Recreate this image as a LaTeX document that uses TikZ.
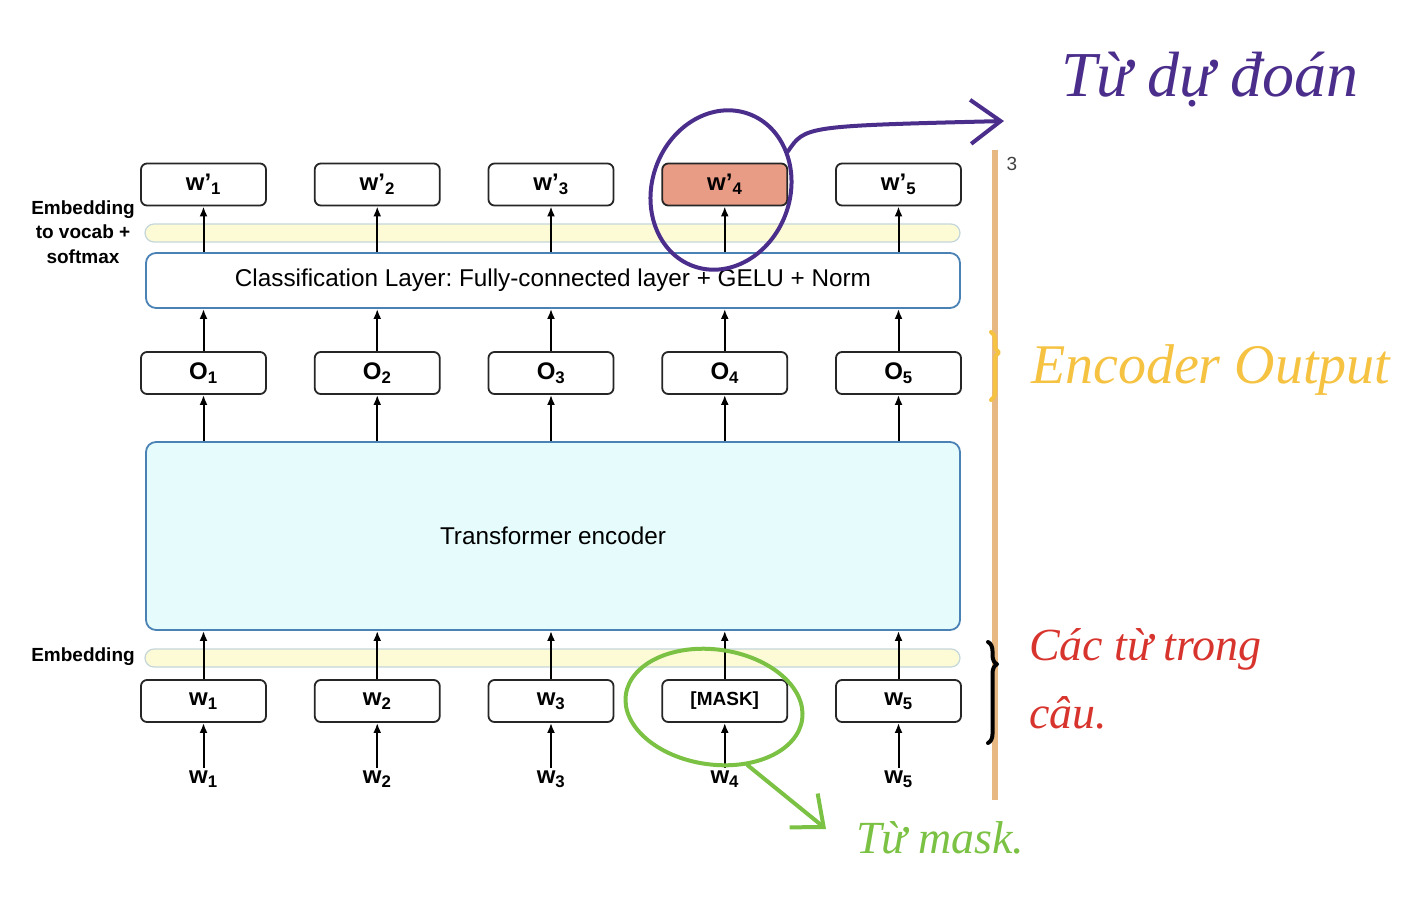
\documentclass[tikz,border=0pt]{standalone}
\usepackage{fontspec}
\setmainfont{Liberation Sans}
\newfontfamily\handfont{Liberation Serif}
\usetikzlibrary{shapes.geometric, arrows, arrows.meta, decorations.pathreplacing}
\frenchspacing

\definecolor{barfill}{HTML}{FCFBD6}
\definecolor{barline}{HTML}{C5D6DA}
\definecolor{layerline}{HTML}{4A82B6}
\definecolor{encfill}{HTML}{E6FCFC}
\definecolor{predfill}{HTML}{E89C86}
\definecolor{rulecol}{HTML}{E8B882}
\definecolor{penpurple}{HTML}{4B2E8C}
\definecolor{penyellow}{HTML}{F5C242}
\definecolor{penred}{HTML}{D8342E}
\definecolor{pengreen}{HTML}{7BC143}

\tikzstyle{word} = [rectangle, rounded corners = 6pt, minimum width = 125pt, minimum height = 42pt, line width = 1.8pt, draw = black!85, fill = white, font = \fontsize{24}{26}\selectfont\bfseries]
\tikzstyle{pred} = [word, fill = predfill]
\tikzstyle{token} = [inner sep = 2pt, font = \fontsize{24}{26}\selectfont\bfseries]
\tikzstyle{bar} = [rectangle, rounded corners = 9pt, minimum width = 815pt, minimum height = 18pt, line width = 1.2pt, draw = barline, fill = barfill]
\tikzstyle{layer} = [rectangle, rounded corners = 10pt, minimum width = 814pt, line width = 1.8pt, draw = layerline, font = \fontsize{24.3}{26}\selectfont]
\tikzstyle{side} = [align = center, font = \fontsize{19}{24.5}\selectfont\bfseries]
\tikzstyle{pen} = [line width = 4pt, line cap = round, line join = round]
\tikzstyle{hand} = [inner sep = 0pt, align = left, font = \handfont\itshape\fontsize{46}{68}\selectfont]

\begin{document}
\begin{tikzpicture}[x = 1pt, y = -1pt, node distance = 173.75pt, >={Latex[length = 10pt, width = 8pt]}, line width = 2pt]
	\useasboundingbox (0,0) rectangle (1416,900);

	% layers
	\node (topbar)[bar] at (552.5,233) {};
	\node (cls)[layer, fill = white, minimum height = 55pt] at (553,280.5) {Classification Layer: Fully-connected layer + GELU + Norm};
	\node (enc)[layer, fill = encfill, minimum height = 188pt] at (553,536) {Transformer encoder};
	\node (lowbar)[bar] at (552.5,658) {};

	\node (toplab)[side] at (83,232) {Embedding\\to vocab +\\softmax};
	\node (lowlab)[side] at (83,657) {Embedding};

	% predicted words
	\node (wp1)[word] at (203.5,184.5) {w’\textsubscript{1}};
	\node (wp2)[word, right of = wp1] {w’\textsubscript{2}};
	\node (wp3)[word, right of = wp2] {w’\textsubscript{3}};
	\node (wp4)[pred, right of = wp3] {w’\textsubscript{4}};
	\node (wp5)[word, right of = wp4] {w’\textsubscript{5}};

	% encoder outputs
	\node (out1)[word] at (203.5,373) {O\textsubscript{1}};
	\node (out2)[word, right of = out1] {O\textsubscript{2}};
	\node (out3)[word, right of = out2] {O\textsubscript{3}};
	\node (out4)[word, right of = out3] {O\textsubscript{4}};
	\node (out5)[word, right of = out4] {O\textsubscript{5}};

	% inputs
	\node (in1)[word] at (203.5,701) {w\textsubscript{1}};
	\node (in2)[word, right of = in1] {w\textsubscript{2}};
	\node (in3)[word, right of = in2] {w\textsubscript{3}};
	\node (in4)[word, right of = in3, font = \fontsize{19}{22}\selectfont\bfseries] {[MASK]};
	\node (in5)[word, right of = in4] {w\textsubscript{5}};

	\node (tok1)[token] at (203.5,779) {w\textsubscript{1}};
	\node (tok2)[token, right of = tok1] {w\textsubscript{2}};
	\node (tok3)[token, right of = tok2] {w\textsubscript{3}};
	\node (tok4)[token, right of = tok3] {w\textsubscript{4}};
	\node (tok5)[token, right of = tok4] {w\textsubscript{5}};

	\draw [->] (tok1) -- (in1);
	\draw [->] (tok2) -- (in2);
	\draw [->] (tok3) -- (in3);
	\draw [->] (tok4) -- (in4);
	\draw [->] (tok5) -- (in5);

	\draw [->] (in1) -- (enc.south -| in1);
	\draw [->] (in2) -- (enc.south -| in2);
	\draw [->] (in3) -- (enc.south -| in3);
	\draw [->] (in4) -- (enc.south -| in4);
	\draw [->] (in5) -- (enc.south -| in5);

	\draw [->] (enc.north -| out1) -- (out1);
	\draw [->] (enc.north -| out2) -- (out2);
	\draw [->] (enc.north -| out3) -- (out3);
	\draw [->] (enc.north -| out4) -- (out4);
	\draw [->] (enc.north -| out5) -- (out5);

	\draw [->] (out1) -- (cls.south -| out1);
	\draw [->] (out2) -- (cls.south -| out2);
	\draw [->] (out3) -- (cls.south -| out3);
	\draw [->] (out4) -- (cls.south -| out4);
	\draw [->] (out5) -- (cls.south -| out5);

	\draw [->] (cls.north -| wp1) -- (wp1);
	\draw [->] (cls.north -| wp2) -- (wp2);
	\draw [->] (cls.north -| wp3) -- (wp3);
	\draw [->] (cls.north -| wp4) -- (wp4);
	\draw [->] (cls.north -| wp5) -- (wp5);

	% page margin and notes
	\draw [rulecol, line width = 6pt] (995,150) -- (995,800);
	\node (page)[font = \fontsize{19}{20}\selectfont, text = black!75] at (1012,164) {3};

	\node (predring)[ellipse, pen, draw = penpurple, minimum width = 138pt, minimum height = 162pt, rotate = -20] at (721,190) {};
	\node (predtext)[hand, text = penpurple, anchor = west, font = \handfont\itshape\fontsize{64}{68}\selectfont] at (1060,80) {Từ dự đoán};
	\coordinate (predtip) at (1004,121);
	\draw [pen, penpurple, -{Straight Barb[length = 30pt, width = 44pt]}] (predring.50) .. controls (805,126) .. (predtip);

	\node (enctext)[hand, text = penyellow, anchor = west, font = \handfont\itshape\fontsize{56}{64}\selectfont] at (1030,370) {Encoder Output};
	\draw [pen, penyellow, decorate, decoration = {brace, amplitude = 8pt, aspect = 0.3}] (991,332) -- (991,400);

	\node (wordtext)[hand, text = penred, anchor = north west] at (1028,628) {Các từ trong\\câu.};
	\draw [pen, black, decorate, decoration = {brace, amplitude = 9pt, aspect = 0.22}] (988,642) -- (988,743);

	\node (maskring)[ellipse, pen, draw = pengreen, minimum width = 178pt, minimum height = 115pt, rotate = -8] at (714,707) {};
	\node (masktext)[hand, text = pengreen, anchor = west] at (855,838) {Từ mask.};
	\coordinate (masktip) at (826,829);
	\draw [pen, pengreen, -{Straight Barb[length = 26pt, width = 44pt]}] (maskring.-52) .. controls (785,795) .. (masktip);
\end{tikzpicture}
\end{document}
